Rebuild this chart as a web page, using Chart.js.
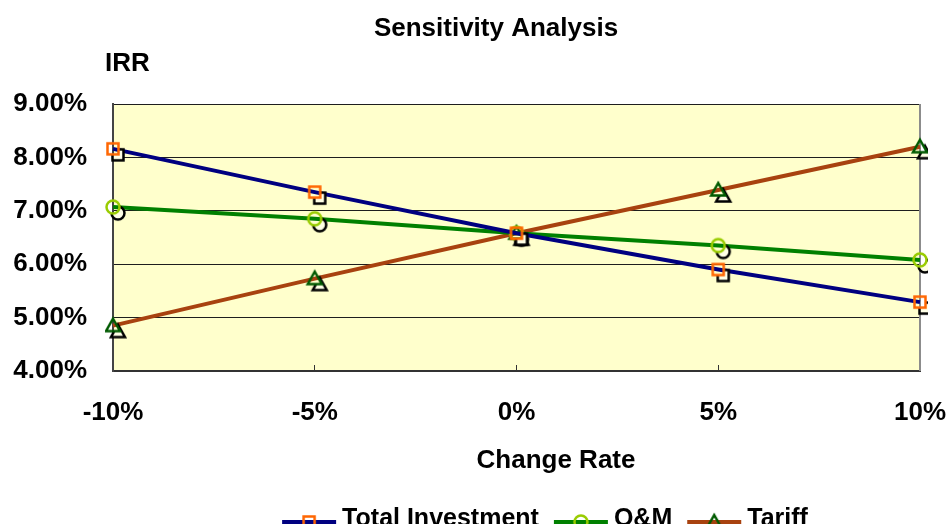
<!DOCTYPE html>
<html>
<head>
<meta charset="utf-8">
<script src="https://cdn.jsdelivr.net/npm/chart.js@4.4.0/dist/chart.umd.min.js"></script>
<style>
html, body { margin: 0; padding: 0; background: #fff; }
</style>
</head>
<body>
<canvas id="myChart" width="949" height="524"></canvas>
<script>
var changeRates = ["-10%", "-5%", "0%", "5%", "10%"]
var totalInvestment = [8.16, 7.35, 6.58, 5.90, 5.29]
var oAndM = [7.07, 6.85, 6.58, 6.35, 6.08]
var tariff = [4.85, 5.73, 6.58, 7.39, 8.20]
var yTicks = [4, 5, 6, 7, 8, 9]

var FONT = '"Liberation Sans", Arial, sans-serif'

function shapePath(ctx, shape, cx, cy) {
    ctx.beginPath()
    if (shape === 'rect') {
        ctx.rect(cx - 5.5, cy - 5.5, 11, 11)
    } else if (shape === 'circle') {
        ctx.arc(cx, cy, 6.5, 0, Math.PI * 2)
    } else {
        ctx.moveTo(cx, cy - 7)
        ctx.lineTo(cx + 7, cy + 5.5)
        ctx.lineTo(cx - 7, cy + 5.5)
        ctx.closePath()
    }
}

// marker with the black offset "shadow" copy, as in the old Excel chart
function makeMarker(shape, color, shadow) {
    var c = document.createElement('canvas')
    c.width = 40
    c.height = 40
    var g = c.getContext('2d')
    g.lineWidth = 2.5
    if (shadow) {
        shapePath(g, shape, 25, 26)
        g.fillStyle = '#ffffe6'
        g.fill()
        g.strokeStyle = '#000'
        g.stroke()
        g.globalCompositeOperation = 'destination-out'
        shapePath(g, shape, 20, 20)
        g.fill()
        g.globalCompositeOperation = 'source-over'
    }
    shapePath(g, shape, 20, 20)
    g.strokeStyle = color
    g.stroke()
    return c
}

var markers = [
    { shape: 'rect', color: '#ff6600' },
    { shape: 'circle', color: '#99cc00' },
    { shape: 'triangle', color: '#005a00' }
]

var decor = {
    id: 'decor',
    beforeDraw(chart) {
        var a = chart.chartArea, ctx = chart.ctx
        ctx.save()
        ctx.fillStyle = '#ffffcc'
        ctx.fillRect(a.left, a.top, a.right - a.left, a.bottom - a.top)
        ctx.restore()
    },
    beforeDatasetsDraw(chart) {
        var a = chart.chartArea, ctx = chart.ctx
        ctx.save()
        ctx.strokeStyle = '#8c8c8c'
        ctx.lineWidth = 2
        ctx.beginPath()
        ctx.moveTo(a.right, a.top)
        ctx.lineTo(a.right, a.bottom)
        ctx.stroke()
        ctx.restore()
    },
    afterDraw(chart) {
        var ctx = chart.ctx
        ctx.save()
        ctx.fillStyle = '#000'
        ctx.textBaseline = 'middle'
        ctx.font = 'bold 26px ' + FONT
        ctx.textAlign = 'center'
        ctx.fillText('Sensitivity Analysis', 496, 29)
        ctx.fillText('Change Rate', 556, 461)
        ctx.textAlign = 'left'
        ctx.fillText('IRR', 105, 64)

        // legend
        ctx.font = 'bold 25px ' + FONT
        var seg = 54, gap = 6, sep = 15
        var items = chart.data.datasets.map(function (ds, i) {
            return { text: ds.label, color: ds.borderColor, m: markers[i], w: ctx.measureText(ds.label).width }
        })
        var total = 0
        items.forEach(function (it, i) { total += seg + gap + it.w + (i ? sep : 0) })
        var x = 545 - total / 2, y = 519
        items.forEach(function (it) {
            ctx.strokeStyle = it.color
            ctx.lineWidth = 4
            ctx.beginPath()
            ctx.moveTo(x, y + 3)
            ctx.lineTo(x + seg, y + 3)
            ctx.stroke()
            var img = makeMarker(it.m.shape, it.m.color, false)
            ctx.drawImage(img, x + seg / 2 - 20, y + 3 - 20)
            ctx.fillText(it.text, x + seg + gap, y)
            x += seg + gap + it.w + sep
        })
        ctx.restore()
    }
}

var chartField = document.querySelector('#myChart').getContext('2d')

var myChart = new Chart(chartField, {
    type: 'line',
    data: {
        labels: changeRates,
        datasets: [{
            label: 'Total Investment',
            data: totalInvestment,
            borderColor: '#000080',
            pointStyle: makeMarker('rect', '#ff6600', true)
        }, {
            label: 'O&M',
            data: oAndM,
            borderColor: '#008000',
            pointStyle: makeMarker('circle', '#99cc00', true)
        }, {
            label: 'Tariff',
            data: tariff,
            borderColor: '#a8420f',
            pointStyle: makeMarker('triangle', '#005a00', true)
        }]
    },
    options: {
        responsive: false,
        animation: false,
        elements: {
            line: { borderWidth: 4, tension: 0 },
            point: { radius: 7 }
        },
        layout: { padding: { top: 104, right: 29, left: 0, bottom: 0 } },
        plugins: {
            legend: { display: false },
            title: { display: false },
            tooltip: { enabled: false }
        },
        scales: {
            x: {
                grid: { drawOnChartArea: false, tickLength: -6, color: '#333', lineWidth: 1 },
                border: { color: '#333', width: 2 },
                ticks: {
                    color: '#000',
                    padding: 32,
                    maxRotation: 0,
                    autoSkip: false,
                    font: { family: FONT, size: 26, weight: 'bold' }
                },
                afterFit: function (s) {
                    s.height = 153
                    s.paddingLeft = 0
                    s.paddingRight = 0
                }
            },
            y: {
                min: 4,
                max: 9,
                afterBuildTicks: function (s) { s.ticks = yTicks.map(function (v) { return { value: v } }) },
                grid: { color: '#1e1e1e', lineWidth: 1, drawTicks: false },
                border: { color: '#444', width: 2 },
                ticks: {
                    color: '#000',
                    padding: 26,
                    callback: function (v) { return v.toFixed(2) + '%' },
                    font: { family: FONT, size: 26, weight: 'bold' }
                },
                afterFit: function (s) { s.width = 113 }
            }
        }
    },
    plugins: [decor]
});
</script>
</body>
</html>
